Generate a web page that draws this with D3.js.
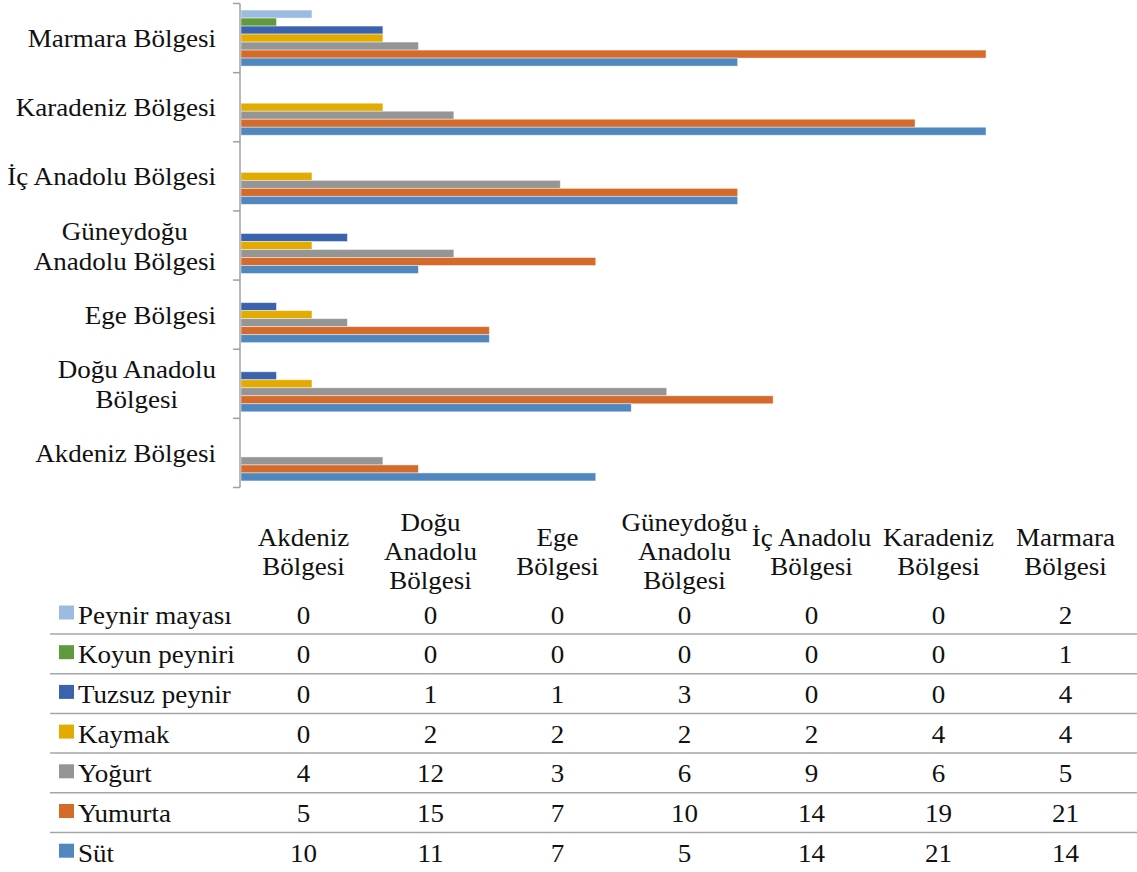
<!DOCTYPE html>
<html>
<head>
<meta charset="utf-8">
<script src="https://cdn.jsdelivr.net/npm/d3@7/dist/d3.min.js"></script>
</head>
<body style="margin:0">
<svg id="chart" width="1137" height="872" font-family="Times New Roman, Liberation Serif, serif" style="display:block"></svg>
<script>
// Regions (categories)
const regions = ["Akdeniz Bölgesi", "Doğu Anadolu Bölgesi", "Ege Bölgesi",
  "Güneydoğu Anadolu Bölgesi", "İç Anadolu Bölgesi", "Karadeniz Bölgesi", "Marmara Bölgesi"];

// Category labels beside the bars, and column headers of the data table
const axisLabels = [["Akdeniz Bölgesi"], ["Doğu Anadolu", "Bölgesi"], ["Ege Bölgesi"],
  ["Güneydoğu", "Anadolu Bölgesi"], ["İç Anadolu Bölgesi"], ["Karadeniz Bölgesi"], ["Marmara Bölgesi"]];
const tableHeaders = [["Akdeniz", "Bölgesi"], ["Doğu", "Anadolu", "Bölgesi"], ["Ege", "Bölgesi"],
  ["Güneydoğu", "Anadolu", "Bölgesi"], ["İç Anadolu", "Bölgesi"], ["Karadeniz", "Bölgesi"], ["Marmara", "Bölgesi"]];

// Series values per region
const peynirMayasi = [0, 0, 0, 0, 0, 0, 2];
const koyunPeyniri = [0, 0, 0, 0, 0, 0, 1];
const tuzsuzPeynir = [0, 1, 1, 3, 0, 0, 4];
const kaymak       = [0, 2, 2, 2, 2, 4, 4];
const yogurt       = [4, 12, 3, 6, 9, 6, 5];
const yumurta      = [5, 15, 7, 10, 14, 19, 21];
const sut          = [10, 11, 7, 5, 14, 21, 14];

const seriesNames = ["Peynir mayası", "Koyun peyniri", "Tuzsuz peynir", "Kaymak", "Yoğurt", "Yumurta", "Süt"];
const seriesValues = [peynirMayasi, koyunPeyniri, tuzsuzPeynir, kaymak, yogurt, yumurta, sut];
const seriesColors = ["#9bbbe0", "#5f9a3c", "#3b63ad", "#e3aa00", "#959595", "#d46b2a", "#4f87be"];

const series = seriesNames.map((name, i) => ({ name, values: seriesValues[i], color: seriesColors[i] }));

const svg = d3.select("#chart");
const fontSize = 25.5, sx = 1.06;

// Text helper: slightly widened serif glyphs
function addText(x, y, str, anchor) {
  return svg.append("text")
    .attr("font-family", "Times New Roman")
    .attr("font-size", fontSize)
    .attr("fill", "#111")
    .attr("text-anchor", anchor || "start")
    .attr("transform", `translate(${x},${y}) scale(${sx},1)`)
    .text(str);
}

// Plot geometry
const plotLeft = 241, plotTop = 3.5, plotBottom = 487.5;

const x = d3.scaleLinear().domain([0, 21]).range([plotLeft, 986]);

// Marmara at the top, Akdeniz at the bottom
const y = d3.scaleBand()
  .domain(regions.slice().reverse())
  .range([plotTop, plotBottom])
  .paddingInner(0).paddingOuter(0);

const ySub = d3.scaleBand()
  .domain(seriesNames)
  .range([0, y.bandwidth()])
  .paddingInner(0)
  .paddingOuter(0.82);

// Bars
const groups = svg.append("g").selectAll("g")
  .data(regions)
  .join("g")
  .attr("transform", d => `translate(0,${y(d)})`);

groups.selectAll("rect")
  .data((d, ri) => series.map(s => ({ name: s.name, value: s.values[ri], color: s.color })))
  .join("rect")
  .filter(d => d.value > 0)
  .attr("x", x(0))
  .attr("y", d => ySub(d.name))
  .attr("width", d => x(d.value) - x(0))
  .attr("height", ySub.bandwidth())
  .attr("fill", d => d.color)
  .attr("stroke", "#ffffff")
  .attr("stroke-opacity", 0.55)
  .attr("stroke-width", 0.8);

// Category axis: vertical line with ticks on band boundaries
const axisG = svg.append("g");
axisG.append("line")
  .attr("x1", 240).attr("x2", 240)
  .attr("y1", plotTop).attr("y2", plotBottom)
  .attr("stroke", "#a0a0a0").attr("stroke-width", 1.5);
const boundaries = y.domain().map(d => y(d)).concat([plotBottom]);
axisG.selectAll("line.tick")
  .data(boundaries)
  .join("line")
  .attr("class", "tick")
  .attr("x1", 233).attr("x2", 240)
  .attr("y1", d => d).attr("y2", d => d)
  .attr("stroke", "#a0a0a0").attr("stroke-width", 1.5);

// Category labels (multi-line ones centred on each other, right-aligned as a block)
const labelRight = 216, lineH = 30;
regions.forEach((r, i) => {
  const lines = axisLabels[i];
  const cy = y(r) + y.bandwidth() / 2 + 9;
  const texts = lines.map((ln, k) => addText(0, cy + (k - (lines.length - 1) / 2) * lineH, ln, "middle"));
  const maxW = d3.max(texts.map(t => t.node().getComputedTextLength())) * sx;
  texts.forEach((t, k) => t.attr("transform",
    `translate(${labelRight - maxW / 2},${cy + (k - (lines.length - 1) / 2) * lineH}) scale(${sx},1)`));
});

// Data table below the plot
const colW = 127, colStart = 240;
const colX = i => colStart + colW * i + colW / 2;

tableHeaders.forEach((lines, i) => {
  lines.forEach((ln, k) => {
    addText(colX(i), 560 + (k - (lines.length - 1) / 2) * 29, ln, "middle");
  });
});

const rowBase = 623.5, rowH = 39.7;
series.forEach((s, ri) => {
  const base = rowBase + ri * rowH;
  svg.append("rect")
    .attr("x", 59).attr("y", base - 18)
    .attr("width", 15).attr("height", 14)
    .attr("fill", s.color);
  addText(78, base, s.name, "start");
  s.values.forEach((v, ci) => {
    addText(colX(ci), base, v, "middle");
  });
  if (ri < series.length - 1) {
    svg.append("line")
      .attr("x1", 50).attr("x2", 1137)
      .attr("y1", base + 10.5).attr("y2", base + 10.5)
      .attr("stroke", "#a6a6a6").attr("stroke-width", 1.5);
  }
});
</script>
</body>
</html>
